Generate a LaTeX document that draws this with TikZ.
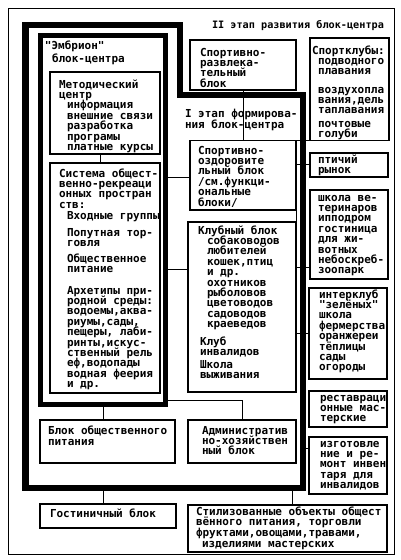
\documentclass[tikz,border=0pt]{standalone}
\usepackage{fontspec}
\newfontfamily\mono{DejaVu Sans Mono}
\usetikzlibrary{calc}
\setlength{\lineskiplimit}{-100pt}
\tikzset{
  bx/.style={draw, line width=1.3pt, rectangle, inner sep=0pt, outer sep=0pt, anchor=north west},
  tx/.style={inner sep=0pt, outer sep=0pt, anchor=north west, align=left,
    font=\mono\bfseries\fontsize{11}{10.4}\selectfont},
  ln/.style={line width=1pt},
}
\newcommand\bx[5]{\node[bx, minimum width={(#4)-(#2)}, minimum height={(#5)-(#3)}] (#1) at (#2,#3) {};}
\newcommand\tl[4]{\node[tx] (#1) at (#2,#3-11) {\rule{0pt}{11pt}#4};}
\begin{document}
\begin{tikzpicture}[x=1pt,y=-1pt]
\useasboundingbox (0,0) rectangle (400,560);
% outer frame
\node[bx, line width=1pt, minimum width=386, minimum height=546] (outer) at (8,8) {};
% stage I thick frame
\draw[line width=6.5pt, line join=miter] (25.5,25) -- (180,25) -- (180,95) -- (303,95) -- (303,488) -- (25.5,488) -- cycle;
\coordinate (fB) at (0,488);
\coordinate (fR) at (303,0);
% embryo frame
\node[bx, line width=5pt, minimum width=125, minimum height=368.5] (emb) at (40,35.5) {};
% boxes
\bx{metod}{50}{72}{160}{154}
\bx{sys}{50}{163}{160}{393}
\bx{srb}{190}{40}{296}{90}
\bx{sob}{190}{140.5}{296}{210}
\bx{klub}{188}{222}{296}{392}
\bx{clubs}{310}{38}{389}{140.5}
\bx{bird}{310}{153}{388}{177}
\bx{school}{310}{190}{388}{279}
\bx{inter}{309}{288}{387}{379}
\bx{rest}{309}{391}{387}{427}
\bx{izg}{309}{437}{387}{494}
\bx{pit}{40}{420}{175}{463}
\bx{adm}{188}{420}{296}{463}
\bx{gost}{40}{504}{176}{528}
\bx{stil}{188}{505}{387}{552}
% helper coordinates
\coordinate (xA) at (100,0);
\coordinate (yB) at (0,177);
\coordinate (yC) at (0,269);
\coordinate (yD) at (0,400);
\coordinate (xE) at (103,0);
\coordinate (xF) at (292,0);
\coordinate (yG) at (0,164);
\coordinate (yH) at (0,333);
\coordinate (yI) at (0,267);
\coordinate (yJ) at (0,448);
% connectors
\draw[ln] (metod.south -| xA) -- (sys.north -| xA);
\draw[ln] (emb.east |- yB) -- (sob.west |- yB);
\draw[ln] (emb.east |- yC) -- (klub.west |- yC);
\draw[ln] (emb.east |- yD) -| (adm.north);
\draw[ln] (emb.south -| xE) -- (pit.north -| xE);
\draw[ln] (fB -| xE) -- (gost.north -| xE);
\draw[ln] (fB -| xF) -- (stil.north -| xF);
\draw[ln] (srb.south) -- (sob.north);
\draw[ln] (sob.north east) -- (clubs.south west);
\draw[ln] (sob.south east) -- (klub.north east);
\draw[ln] (sob.east |- yG) -- (bird.west |- yG);
\draw[ln] (klub.east |- yI) -- (school.west |- yI);
\draw[ln] (klub.east |- yH) -- (inter.west |- yH);
\draw[ln] (fR |- yJ) -- (izg.west |- yJ);
% texts
\node[tx, font=\mono\bfseries\fontsize{10.2}{10.4}\selectfont] (t0) at (212,28-11) {\rule{0pt}{11pt}II этап развития блок-центра};
\tl{t1}{45}{49}{"Эмбрион"\\[2.6pt]\hspace*{7pt}блок-центра}
\tl{t2}{59}{88}{Методический\\центр\\\hspace*{8pt}информация\\\hspace*{8pt}внешние связи\\\hspace*{8pt}разработка\\\hspace*{8pt}програмы\\\hspace*{8pt}платные курсы}
\tl{t3}{59}{177}{Система общест-\\венно-рекреаци\\онных простран\\ств:}
\tl{t4}{67}{219}{Входные группы}
\tl{t5}{67}{236}{Попутная тор-\\говля}
\tl{t6}{67}{262}{Общественное\\питание}
\tl{t7}{67}{294}{Архетипы при-\\родной среды:\\водоемы,аква-\\риумы,сады,\\пещеры, лаби-\\ринты,искус-\\ственный рель\\еф,водопады\\водная феерия\\и др.}
\tl{t8}{200}{56}{Спортивно-\\развлека-\\тельный\\блок}
\tl{t9}{185}{117}{I этап формирова-\\[0.6pt]ния блок-центра}
\tl{t10}{198}{154}{Спортивно-\\оздоровите\\льный блок\\/см.функци-\\ональные\\блоки/}
\tl{t11}{198}{234}{Клубный блок\\\hspace*{9pt}собаководов\\\hspace*{9pt}любителей\\\hspace*{9pt}кошек,птиц\\\hspace*{9pt}и др.\\\hspace*{9pt}охотников\\\hspace*{9pt}рыболовов\\\hspace*{9pt}цветоводов\\\hspace*{9pt}садоводов\\\hspace*{9pt}краеведов}
\tl{t12}{200}{345}{Клуб\\инвалидов}
\tl{t13}{200}{368}{Школа\\выживания}
\tl{t14}{312}{54}{Спортклубы:\\\hspace*{6pt}подводного\\\hspace*{6pt}плавания}
\tl{t15}{318}{93}{воздухопла\\вания,дель\\таплавания}
\tl{t16}{318}{127}{почтовые\\голуби}
\tl{t17}{318}{163.5}{птичий\\рынок}
\tl{t18}{318}{201}{школа ве-\\теринаров\\ипподром\\гостиница\\для жи-\\вотных\\небоскреб-\\зоопарк}
\tl{t19}{319}{298}{интерклуб\\"зелёных"\\школа\\фермерства\\оранжереи\\тёплицы\\сады\\огороды}
\tl{t20}{320}{401}{реставраци\\онные мас-\\терские}
\tl{t21}{320}{447}{изготовле\\ние и ре-\\монт инвен\\таря для\\инвалидов}
\tl{t22}{48}{434}{Блок общественного\\[0.6pt]питания}
\tl{t23}{202}{434}{Административ\\но-хозяйствен\\ный блок}
\tl{t24}{50}{517}{Гостиничный блок}
\tl{t25}{196}{515}{Стилизованные объекты общест\\[0.4pt]вённого питания, торговли\\[0.4pt]фруктами,овощами,травами,\\[0.4pt]\hspace*{6pt}изделиями мастерских}
\end{tikzpicture}
\end{document}
